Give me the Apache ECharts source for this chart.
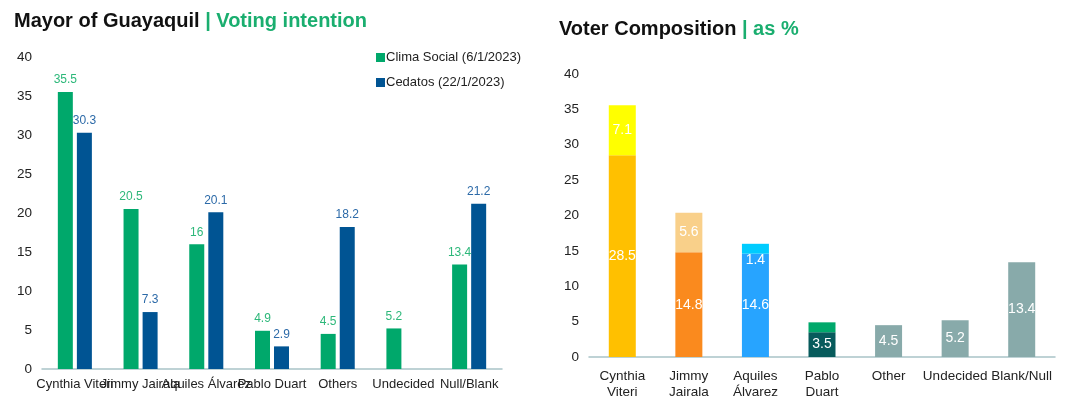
<!DOCTYPE html>
<html>
<head>
<meta charset="utf-8">
<script src="https://cdn.jsdelivr.net/npm/echarts@6/dist/echarts.min.js"></script>
<style>
  html, body { margin: 0; padding: 0; background: #fff; }
  #chart { width: 1074px; height: 396px; }
</style>
</head>
<body>
<div id="chart"></div>
<script>
// Voting intention by pollster
const intentionCategories = ['Cynthia Viteri', 'Jimmy Jairala', 'Aquiles Álvarez', 'Pablo Duart', 'Others', 'Undecided', 'Null/Blank'];
const climaSocial = [35.5, 20.5, 16, 4.9, 4.5, 5.2, 13.4];
const cedatos = [30.3, 7.3, 20.1, 2.9, 18.2, null, 21.2];

// Voter composition (stacked)
const compositionCategories = ['Cynthia\nViteri', 'Jimmy\nJairala', 'Aquiles\nÁlvarez', 'Pablo\nDuart', 'Other', 'Undecided', 'Blank/Null'];
const compositionBase = [28.5, 14.8, 14.6, 3.5, 4.5, 5.2, 13.4];
const compositionTop = [7.1, 5.6, 1.4, 1.4, null, null, null];

const axisTicks = [0, 5, 10, 15, 20, 25, 30, 35, 40];

const baseColors = ['#FFC000', '#FA8A1E', '#27A4FF', '#075B5C', '#88AAAA', '#88AAAA', '#88AAAA'];
const topColors = ['#FFFF00', '#F9D08A', '#00CCFF', '#00A86B', null, null, null];

const font = 'Liberation Sans, Arial, Helvetica, sans-serif';

const chart = echarts.init(document.getElementById('chart'));

const yAxisCommon = {
  type: 'value',
  min: axisTicks[0],
  max: axisTicks[axisTicks.length - 1],
  interval: axisTicks[1] - axisTicks[0],
  splitLine: { show: false },
  axisLine: { show: false },
  axisTick: { show: false },
  axisLabel: { color: '#222', fontSize: 13.5, fontFamily: font, margin: 10 }
};

const titleStyle = {
  fontSize: 20, fontWeight: 'bold', color: '#111', fontFamily: font,
  rich: { g: { fontSize: 20, fontWeight: 'bold', color: '#1AAE6F', fontFamily: font } }
};

chart.setOption({
  animation: false,
  textStyle: { fontFamily: font },
  title: [
    { text: 'Mayor of Guayaquil {g|| Voting intention}', left: 14, top: 11, padding: 0, textStyle: titleStyle },
    { text: 'Voter Composition {g|| as %}', left: 559, top: 19, padding: 0, textStyle: titleStyle }
  ],
  legend: {
    left: 371, top: 46,
    orient: 'vertical',
    itemWidth: 9, itemHeight: 9, itemGap: 12,
    icon: 'rect',
    textStyle: { fontSize: 13, color: '#222', fontFamily: font, padding: [0, 0, 0, -4] },
    data: ['Clima Social (6/1/2023)', 'Cedatos (22/1/2023)']
  },
  grid: [
    { left: 42, top: 57, width: 460, bottom: 27, outerBoundsMode: 'none', containLabel: false },
    { left: 589, top: 74, width: 466, bottom: 39, outerBoundsMode: 'none', containLabel: false }
  ],
  xAxis: [
    {
      gridIndex: 0, type: 'category', data: intentionCategories,
      axisLine: { lineStyle: { color: '#A9C4C8', width: 1.5 } },
      axisTick: { show: false },
      axisLabel: { interval: 0, color: '#222', fontSize: 13, fontFamily: font, margin: 9, hideOverlap: false }
    },
    {
      gridIndex: 1, type: 'category', data: compositionCategories,
      axisLine: { lineStyle: { color: '#A9C4C8', width: 1.5 } },
      axisTick: { show: false },
      axisLabel: { interval: 0, color: '#222', fontSize: 13.5, fontFamily: font, margin: 11, lineHeight: 16 }
    }
  ],
  yAxis: [
    Object.assign({ gridIndex: 0 }, yAxisCommon),
    Object.assign({ gridIndex: 1 }, yAxisCommon)
  ],
  series: [
    {
      name: 'Clima Social (6/1/2023)', type: 'bar', xAxisIndex: 0, yAxisIndex: 0,
      data: climaSocial, barWidth: 15, barGap: '27%',
      itemStyle: { color: '#00A86B' },
      label: { show: true, position: 'top', distance: 6, color: '#2DB87A', fontSize: 12, fontFamily: font }
    },
    {
      name: 'Cedatos (22/1/2023)', type: 'bar', xAxisIndex: 0, yAxisIndex: 0,
      data: cedatos, barWidth: 15, barGap: '27%',
      itemStyle: { color: '#005493' },
      label: { show: true, position: 'top', distance: 6, color: '#2C6AA8', fontSize: 12, fontFamily: font }
    },
    {
      name: 'base', type: 'bar', stack: 'comp', xAxisIndex: 1, yAxisIndex: 1,
      barWidth: 27,
      data: compositionBase.map((v, i) => ({ value: v, itemStyle: { color: baseColors[i] } })),
      label: { show: true, position: 'inside', color: '#fff', fontSize: 14, fontFamily: font }
    },
    {
      name: 'top', type: 'bar', stack: 'comp', xAxisIndex: 1, yAxisIndex: 1,
      barWidth: 27,
      data: compositionTop.map((v, i) => {
        if (v === null) return null;
        const item = { value: v, itemStyle: { color: topColors[i] } };
        if (i === 2) item.label = { offset: [0, 11] };
        if (i === 3) item.label = { show: false };
        return item;
      }),
      label: { show: true, position: 'inside', color: '#fff', fontSize: 14, fontFamily: font }
    }
  ]
});
</script>
</body>
</html>
